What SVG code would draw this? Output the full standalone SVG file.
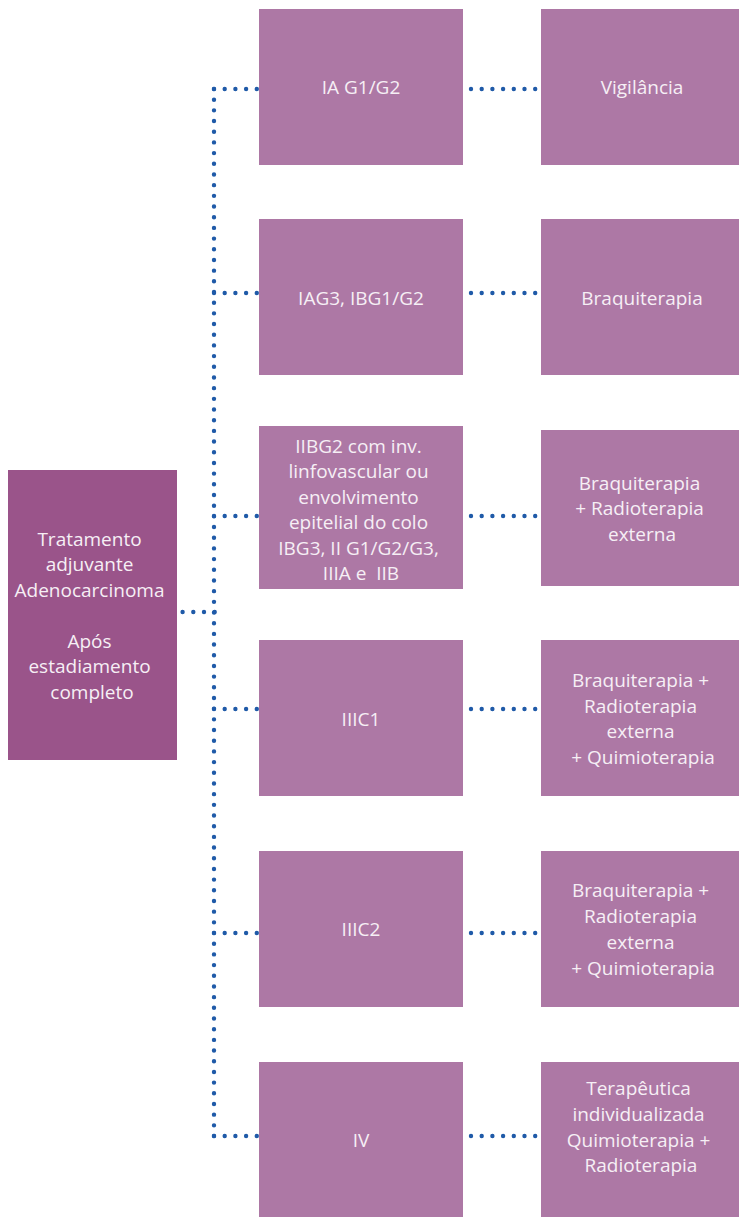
<svg xmlns="http://www.w3.org/2000/svg" width="739" height="1217" viewBox="0 0 739 1217">
  <style>
    .root { fill: #9a548a; }
    .box { fill: #ad78a5; }
    .lbl { font-family: "Open Sans", "Noto Sans", sans-serif; font-size: 19px; fill: #f6eff5; text-anchor: middle; }
    .dots { fill: none; stroke: #1f5aa8; stroke-width: 4.4; stroke-linecap: round; stroke-dasharray: 0 10.7; }
    .trunk { stroke-dasharray: 0 10.684; }
  </style>

  <!-- dotted connectors -->
  <g id="connectors">
    <path class="dots trunk" d="M214 89 V1136.5"/>
    <path class="dots" d="M182.6 612 H215.3"/>
    <path class="dots" d="M214 89 H257.5"/>
    <path class="dots" d="M214 293 H257.5"/>
    <path class="dots" d="M214 516 H257.5"/>
    <path class="dots" d="M214 709 H257.5"/>
    <path class="dots" d="M214 933 H257.5"/>
    <path class="dots" d="M214 1136 H257.5"/>
    <path class="dots" d="M471 89 H535.9"/>
    <path class="dots" d="M471 293 H535.9"/>
    <path class="dots" d="M471 516 H535.9"/>
    <path class="dots" d="M471 709 H535.9"/>
    <path class="dots" d="M471 933 H535.9"/>
    <path class="dots" d="M471 1136 H535.9"/>
  </g>

  <!-- root node -->
  <g id="root">
    <rect class="root" x="8" y="470" width="169" height="290"/>
    <text class="lbl">
      <tspan x="92" y="546">Tratamento</tspan>
      <tspan x="92" y="571">adjuvante</tspan>
      <tspan x="92" y="597">Adenocarcinoma</tspan>
      <tspan x="92" y="648">Após</tspan>
      <tspan x="92" y="673">estadiamento</tspan>
      <tspan x="92" y="699">completo</tspan>
    </text>
  </g>

  <!-- stage nodes -->
  <g id="stage-ia">
    <rect class="box" x="259" y="9" width="204" height="156"/>
    <text class="lbl" x="361" y="94">IA G1/G2</text>
  </g>
  <g id="stage-iag3">
    <rect class="box" x="259" y="219" width="204" height="156"/>
    <text class="lbl" x="361" y="305">IAG3, IBG1/G2</text>
  </g>
  <g id="stage-ii">
    <rect class="box" x="259" y="426" width="204" height="163"/>
    <text class="lbl">
      <tspan x="361" y="453">IIBG2 com inv.</tspan>
      <tspan x="361" y="478">linfovascular ou</tspan>
      <tspan x="361" y="504">envolvimento</tspan>
      <tspan x="361" y="529">epitelial do colo</tspan>
      <tspan x="361" y="555">IBG3, II G1/G2/G3,</tspan>
      <tspan x="361" y="580">IIIA e&#160; IIB</tspan>
    </text>
  </g>
  <g id="stage-iiic1">
    <rect class="box" x="259" y="640" width="204" height="156"/>
    <text class="lbl" x="361" y="726">IIIC1</text>
  </g>
  <g id="stage-iiic2">
    <rect class="box" x="259" y="851" width="204" height="156"/>
    <text class="lbl" x="361" y="936">IIIC2</text>
  </g>
  <g id="stage-iv">
    <rect class="box" x="259" y="1062" width="204" height="155"/>
    <text class="lbl" x="361" y="1147">IV</text>
  </g>

  <!-- treatment nodes -->
  <g id="tx-vigilancia">
    <rect class="box" x="541" y="9" width="198" height="156"/>
    <text class="lbl" x="642" y="94">Vigilância</text>
  </g>
  <g id="tx-braqui">
    <rect class="box" x="541" y="219" width="198" height="156"/>
    <text class="lbl" x="642" y="305">Braquiterapia</text>
  </g>
  <g id="tx-braqui-rt">
    <rect class="box" x="541" y="430" width="198" height="156"/>
    <text class="lbl">
      <tspan x="642" y="490">Braquiterapia</tspan>
      <tspan x="642" y="515">+ Radioterapia</tspan>
      <tspan x="642" y="541">externa</tspan>
    </text>
  </g>
  <g id="tx-iiic1">
    <rect class="box" x="541" y="640" width="198" height="156"/>
    <text class="lbl">
      <tspan x="643" y="687">Braquiterapia +</tspan>
      <tspan x="643" y="713">Radioterapia</tspan>
      <tspan x="643" y="738">externa</tspan>
      <tspan x="643" y="764">+ Quimioterapia</tspan>
    </text>
  </g>
  <g id="tx-iiic2">
    <rect class="box" x="541" y="851" width="198" height="156"/>
    <text class="lbl">
      <tspan x="643" y="897">Braquiterapia +</tspan>
      <tspan x="643" y="923">Radioterapia</tspan>
      <tspan x="643" y="949">externa</tspan>
      <tspan x="643" y="975">+ Quimioterapia</tspan>
    </text>
  </g>
  <g id="tx-iv">
    <rect class="box" x="541" y="1062" width="198" height="155"/>
    <text class="lbl">
      <tspan x="641" y="1095">Terapêutica</tspan>
      <tspan x="641" y="1121">individualizada</tspan>
      <tspan x="641" y="1147">Quimioterapia +</tspan>
      <tspan x="641" y="1172">Radioterapia</tspan>
    </text>
  </g>
</svg>
